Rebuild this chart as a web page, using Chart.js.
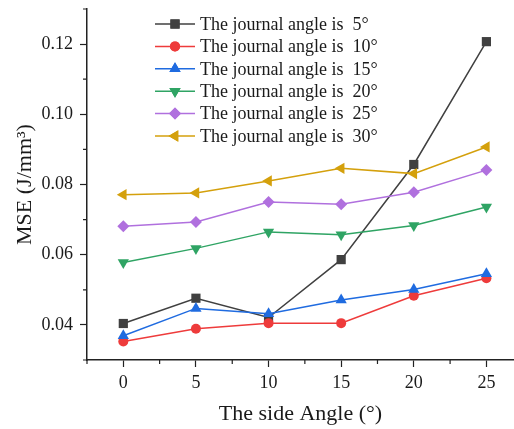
<!DOCTYPE html>
<html lang="en">
<head>
  <meta charset="UTF-8">
  <title>MSE vs side angle</title>
  <script src="https://cdn.jsdelivr.net/npm/chart.js"></script>
  <style>
    html, body { margin: 0; padding: 0; background: #fff; }
  </style>
</head>
<body>
  <canvas id="chartCanvas" width="514" height="429"></canvas>
  <script>
    // data
    const sideAngles = [0, 5, 10, 15, 20, 25];
    const journal5  = [0.0404, 0.0476, 0.0421, 0.0586, 0.0857, 0.1207];
    const journal10 = [0.0353, 0.0389, 0.0405, 0.0405, 0.0483, 0.0533];
    const journal15 = [0.0369, 0.0447, 0.0432, 0.0471, 0.0501, 0.0546];
    const journal20 = [0.0578, 0.0618, 0.0665, 0.0657, 0.0683, 0.0736];
    const journal25 = [0.0681, 0.0693, 0.0750, 0.0744, 0.0778, 0.0841];
    const journal30 = [0.0771, 0.0776, 0.0810, 0.0846, 0.0831, 0.0907];
    const seriesLabels = [
      'The journal angle is  5°', 'The journal angle is  10°', 'The journal angle is  15°',
      'The journal angle is  20°', 'The journal angle is  25°', 'The journal angle is  30°'
    ];
    const xTicks = [0, 5, 10, 15, 20, 25];
    const xMinorTicks = [-2.5, 2.5, 7.5, 12.5, 17.5, 22.5];
    const yTicks = [0.04, 0.06, 0.08, 0.10, 0.12];
    const yMinorTicks = [0.03, 0.05, 0.07, 0.09, 0.11, 0.13];

    const serif = '"Liberation Serif", "DejaVu Serif", serif';
    const axisColor = '#222';

    const styles = [
      { color: '#404040', point: 'rect', radius: 6.5, rotation: 0 },
      { color: '#ee3b3b', point: 'circle', radius: 5, rotation: 0 },
      { color: '#1f6be0', point: 'triangle', radius: 6.5, rotation: 0 },
      { color: '#2fa464', point: 'triangle', radius: 6.5, rotation: 180 },
      { color: '#b070de', point: 'rectRot', radius: 6, rotation: 0 },
      { color: '#d4a00c', point: 'triangle', radius: 6.5, rotation: 270 }
    ];
    const values = [journal5, journal10, journal15, journal20, journal25, journal30];

    const datasets = values.map((vals, i) => ({
      label: seriesLabels[i],
      data: vals.map((v, k) => ({ x: sideAngles[k], y: v })),
      borderColor: styles[i].color,
      backgroundColor: styles[i].color,
      pointStyle: styles[i].point,
      pointRadius: styles[i].radius,
      pointRotation: styles[i].rotation,
      pointBorderWidth: 0,
      borderWidth: 1.5,
      clip: false,
      order: 10 - i
    }));

    // minor ticks drawn by hand, shorter than the major ones
    const minorTicks = {
      id: 'minorTicks',
      afterDraw(chart) {
        const { ctx, chartArea, scales } = chart;
        ctx.save();
        ctx.strokeStyle = axisColor;
        ctx.lineWidth = 1.2;
        ctx.beginPath();
        xMinorTicks.forEach(v => {
          const px = scales.x.getPixelForValue(v);
          ctx.moveTo(px, chartArea.bottom);
          ctx.lineTo(px, chartArea.bottom + 4);
        });
        yMinorTicks.forEach(v => {
          const py = scales.y.getPixelForValue(v);
          ctx.moveTo(chartArea.left, py);
          ctx.lineTo(chartArea.left - 4, py);
        });
        ctx.stroke();
        ctx.restore();
      }
    };

    // legend with line + marker, like the original figure
    const lineLegend = {
      id: 'lineLegend',
      afterDatasetsDraw(chart) {
        const ctx = chart.ctx;
        const x0 = 155, x1 = 195, tx = 200, y0 = 24, step = 22.4;
        ctx.save();
        chart.data.datasets.forEach((ds, i) => {
          const y = y0 + i * step;
          ctx.strokeStyle = ds.borderColor;
          ctx.lineWidth = 1.5;
          ctx.beginPath();
          ctx.moveTo(x0, y);
          ctx.lineTo(x1, y);
          ctx.stroke();
          ctx.fillStyle = ds.backgroundColor;
          Chart.helpers.drawPoint(ctx, {
            pointStyle: ds.pointStyle,
            rotation: ds.pointRotation,
            radius: ds.pointRadius,
            borderWidth: 0
          }, (x0 + x1) / 2, y);
          ctx.fill();
          ctx.fillStyle = '#1a1a1a';
          ctx.font = '18px ' + serif;
          ctx.textBaseline = 'middle';
          ctx.textAlign = 'left';
          ctx.fillText(ds.label, tx, y + 1);
        });
        ctx.restore();
      }
    };

    new Chart(document.getElementById('chartCanvas'), {
      type: 'line',
      data: { datasets },
      options: {
        responsive: false,
        animation: false,
        layout: { autoPadding: false, padding: { top: 9, right: 0, left: 0, bottom: 0 } },
        plugins: {
          legend: { display: false },
          tooltip: { enabled: false }
        },
        scales: {
          x: {
            type: 'linear',
            min: -2.5,
            max: 26.9,
            afterBuildTicks: s => { s.ticks = xTicks.map(v => ({ value: v })); },
            afterFit: s => { s.height = 69; s.paddingLeft = 0; s.paddingRight = 0; },
            grid: { drawOnChartArea: false, tickLength: 7, tickColor: axisColor, tickWidth: 1.2 },
            border: { color: axisColor, width: 1.5 },
            ticks: { color: '#1a1a1a', padding: 5, font: { family: serif, size: 18 } },
            title: {
              display: true, text: 'The side Angle (°)', color: '#1a1a1a',
              font: { family: serif, size: 22 }, padding: { top: 0, bottom: 2 }
            }
          },
          y: {
            min: 0.03,
            max: 0.13,
            afterBuildTicks: s => { s.ticks = yTicks.map(v => ({ value: v })); },
            afterFit: s => { s.width = 87; s.paddingTop = 0; s.paddingBottom = 0; },
            grid: { drawOnChartArea: false, tickLength: 7, tickColor: axisColor, tickWidth: 1.2 },
            border: { color: axisColor, width: 1.5 },
            ticks: {
              color: '#1a1a1a', padding: 7, font: { family: serif, size: 18 },
              callback: v => v.toFixed(2)
            },
            title: {
              display: true, text: 'MSE (J/mm³)', color: '#1a1a1a',
              font: { family: serif, size: 22 }, padding: { top: 12, bottom: 0 }
            }
          }
        }
      },
      plugins: [minorTicks, lineLegend]
    });
  </script>
</body>
</html>
